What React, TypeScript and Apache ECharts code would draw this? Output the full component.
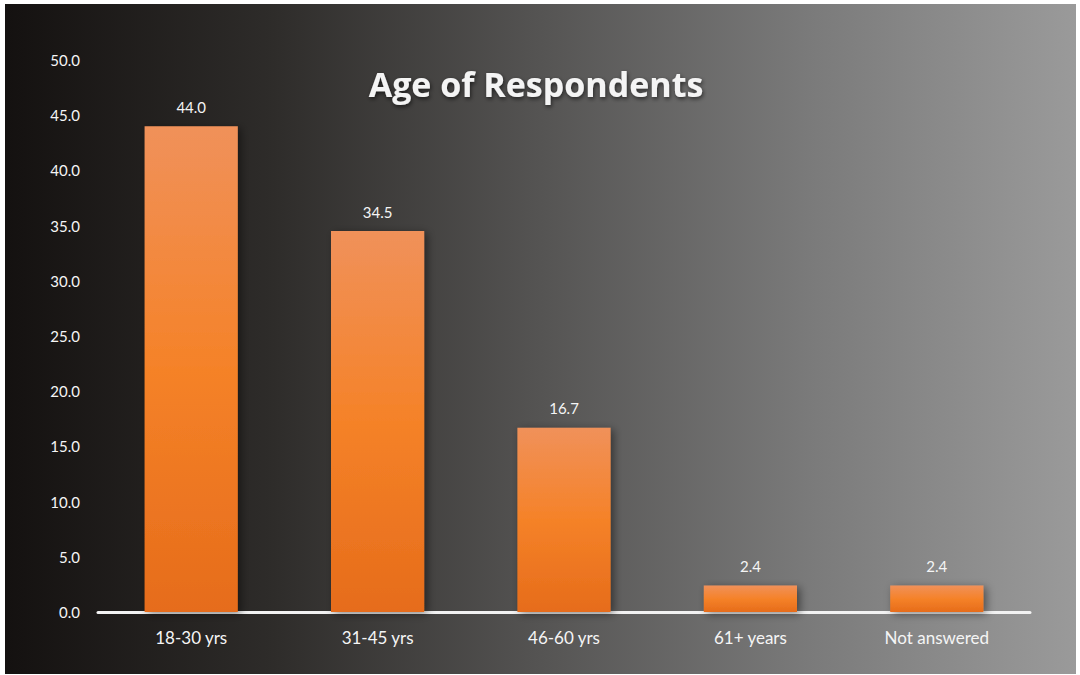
import React, { useEffect, useRef } from "react";
import * as echarts from "echarts";

const categories = ["18-30 yrs", "31-45 yrs", "46-60 yrs", "61+ years", "Not answered"];
const values = [44.0, 34.5, 16.7, 2.4, 2.4];
const yMin = 0;
const yMax = 50;
const yInterval = 5;
const title = "Age of Respondents";

export default function App() {
  const ref = useRef<HTMLDivElement>(null);
  useEffect(() => {
    document.body.style.margin = "0";
    const chart = echarts.init(ref.current!, null, { renderer: "svg" });
    const font = "Lato, 'Open Sans', sans-serif";
    chart.setOption({
      animation: false,
      backgroundColor: "#ffffff",
      graphic: [
        {
          type: "rect",
          z: -10,
          silent: true,
          shape: { x: 5, y: 4, width: 1071, height: 670 },
          style: {
            fill: new echarts.graphic.LinearGradient(0, 0, 1, 0, [
              { offset: 0, color: "#141110" },
              { offset: 0.25, color: "#2e2c2a" },
              { offset: 0.5, color: "#555453" },
              { offset: 0.75, color: "#7a7a7a" },
              { offset: 1, color: "#9a9a9a" },
            ]),
          },
        },
      ],
      title: {
        text: title,
        left: 531,
        textAlign: "center",
        top: 62,
        textStyle: {
          color: "#f4f4f4",
          fontFamily: "'Open Sans', sans-serif",
          fontSize: 34,
          fontWeight: "bold",
          textShadowColor: "rgba(0,0,0,0.6)",
          textShadowBlur: 4,
          textShadowOffsetX: 1,
          textShadowOffsetY: 2,
        },
      },
      grid: { left: 98, right: 50, top: 60, bottom: 63, containLabel: false },
      xAxis: {
        type: "category",
        data: categories,
        axisLine: { show: true, lineStyle: { color: "#f2f2f2", width: 3 } },
        axisTick: { show: false },
        axisLabel: {
          color: "#f5f5f5",
          fontFamily: font,
          fontSize: 17,
          margin: 17,
        },
      },
      yAxis: {
        type: "value",
        min: yMin,
        max: yMax,
        interval: yInterval,
        splitLine: { show: false },
        axisLine: { show: false },
        axisTick: { show: false },
        axisLabel: {
          color: "#f5f5f5",
          fontFamily: font,
          fontSize: 15,
          margin: 18,
          formatter: (v: number) => v.toFixed(1),
        },
      },
      series: [
        {
          type: "bar",
          data: values,
          barWidth: "50%",
          itemStyle: {
            color: new echarts.graphic.LinearGradient(0, 0, 0, 1, [
              { offset: 0, color: "#f0915a" },
              { offset: 0.5, color: "#f58228" },
              { offset: 1, color: "#e66c1b" },
            ]),
            shadowColor: "rgba(0,0,0,0.45)",
            shadowBlur: 8,
            shadowOffsetX: 3,
            shadowOffsetY: 2,
          },
          label: {
            show: true,
            position: "top",
            distance: 12,
            color: "#f5f5f5",
            fontFamily: font,
            fontSize: 15,
            formatter: (p: any) => Number(p.value).toFixed(1),
          },
        },
      ],
    });
    return () => chart.dispose();
  }, []);
  return <div ref={ref} style={{ width: 1080, height: 675 }} />;
}
